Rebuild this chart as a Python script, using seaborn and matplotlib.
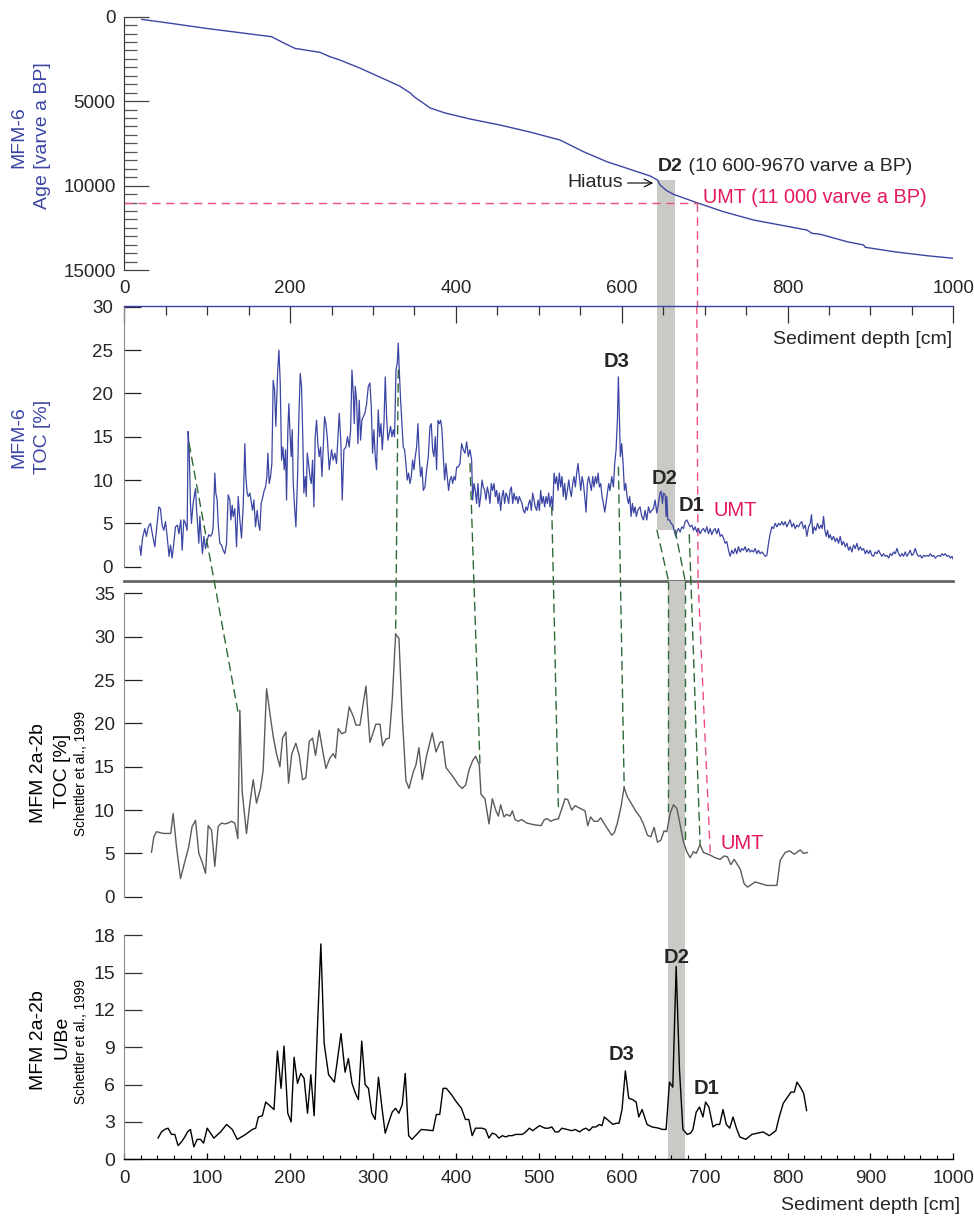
import numpy as np
import pandas as pd
import matplotlib
matplotlib.use("Agg")
import matplotlib.pyplot as plt
import seaborn as sns
from matplotlib.patches import ConnectionPatch
from matplotlib.ticker import MultipleLocator

# ---------------- DATA ----------------
# Panel 1: MFM-6 age-depth model
age_depth = [20.8, 60, 100, 140, 177.7, 191.7, 205.8, 236, 248, 260, 284, 308, 332, 345, 350, 357,
             369, 387, 417, 453, 489, 525.6, 553.8, 582, 610.1, 634.3, 643.1, 646.3, 654.4, 662.4,
             690.6, 722.8, 759, 795.2, 823.4, 829.4, 839.5, 871.7, 891.8, 893.8, 928, 968.3, 1000.4]
age_value = [155, 420, 700, 950, 1184, 1540, 1875, 2110, 2368, 2563, 3037, 3570, 4103, 4517, 4754, 4990,
             5405, 5701, 6056, 6411, 6825, 7300, 7990, 8584, 9036, 9430, 9667, 9963, 10300, 10516,
             11010, 11544, 12036, 12370, 12628, 12822, 12880, 13318, 13515, 13651, 13910, 14150, 14303]

# Panel 2: MFM-6 TOC [%]
toc6_depth = [
    18.7, 20.0, 22.0, 24.7, 26.7, 28.7, 31.6, 34.0, 36.8, 38.8, 41.6, 43.6, 45.6, 47.6, 49.7, 51.7,
    54.0, 55.7, 57.7, 59.7, 61.7, 64.2, 65.8, 68.2, 69.8, 71.8, 73.8, 75.8, 77.0, 78.2, 79.8, 81.0,
    83.0, 84.3, 85.9, 87.0, 88.3, 89.9, 91.1, 92.7, 94.3, 96.0, 98.0, 100.0, 102.0, 104.0, 106.0,
    107.2, 109.2, 110.4, 112.0, 113.2, 115.2, 117.2, 119.3, 121.3, 123.3, 125.3, 127.3, 128.5, 130.1,
    131.3, 133.3, 135.4, 137.4, 139.4, 141.4, 143.4, 145.4, 146.6, 148.2, 149.5, 151.5, 153.5, 154.7,
    156.3, 158.3, 160.3, 161.9, 163.5, 165.1, 166.7, 168.8, 170.4, 172.0, 173.2, 174.8, 176.4, 178.0,
    179.6, 181.2, 182.8, 184.9, 186.5, 188.1, 189.7, 191.3, 192.9, 194.5, 195.7, 197.3, 198.5, 199.7,
    201.3, 202.6, 203.8, 205.4, 207.0, 209.0, 210.6, 212.2, 213.8, 215.4, 216.6, 218.3, 219.5, 220.7,
    222.3, 223.9, 225.5, 227.1, 228.7, 230.3, 231.9, 233.5, 235.1, 236.8, 238.4, 240.0, 241.6, 243.2,
    244.8, 247.2,
    250.0, 252.0, 254.0, 256.0, 259.3, 261.3, 262.9, 264.9, 267.3, 269.3, 271.3, 273.0, 274.6, 276.2,
    277.4, 278.6, 280.2, 281.8, 283.4, 285.0, 286.6, 288.2, 290.2, 292.3, 294.3, 296.3, 297.9, 299.5,
    301.1, 302.7, 304.3, 306.3, 308.0, 309.6, 311.2, 313.2, 314.8, 316.4, 318.0, 319.6, 321.2, 322.8,
    324.4, 326.0, 327.7, 329.3, 330.5, 331.7, 333.3, 334.9, 336.5, 338.1, 339.7, 341.3, 342.9, 344.6,
    346.2, 347.8, 349.4, 351.0, 352.6, 354.2, 355.8, 357.4, 359.0, 360.7, 362.7, 364.7, 366.7, 368.7,
    370.3, 371.9, 373.5, 375.1, 376.7, 378.4, 380.0, 381.6, 383.2, 384.8, 386.4, 388.0, 389.6, 391.2,
    392.8, 394.5, 396.1, 397.7, 399.3, 400.9, 402.9, 404.9, 406.9, 408.9, 410.9, 413.0, 415.0, 417.0,
    419.0, 420.2, 421.8, 423.4, 425.0, 426.6, 428.2, 429.9, 431.5, 433.1, 434.7, 436.3, 437.9, 439.5,
    441.1, 442.7, 444.3, 446.0, 447.6, 449.2, 450.8, 452.4, 454.0, 455.6, 457.2, 458.8, 460.4, 462.0,
    463.6, 465.3, 466.9, 468.5, 470.1, 471.7, 473.3, 474.9, 476.5, 478.1, 479.7, 481.4, 483.0, 484.6,
    486.2, 487.8, 489.4, 491.0, 492.6, 494.2, 495.8, 497.4, 499.1, 500.7, 502.3, 503.9, 505.5, 507.1,
    508.7, 510.3, 511.9, 513.5, 515.2, 516.8, 518.4, 520.0, 521.6, 523.2, 524.8, 526.4, 528.0, 529.6,
    531.2, 532.8, 534.5, 536.1, 537.7, 539.3, 540.9, 542.5, 544.1, 545.7, 547.3, 548.9, 550.6, 552.2,
    553.8, 555.4, 557.0, 558.6, 560.2, 561.8, 563.4, 565.0, 566.6, 568.3, 569.9, 571.5, 573.1, 574.7,
    576.3, 577.9, 579.5, 581.1, 582.7, 584.3, 585.9, 588.0, 590.0, 591.6, 593.2, 594.8, 596.0, 597.2,
    598.4, 600.0, 601.7, 603.3, 604.9, 606.5, 608.1, 609.7, 611.3, 612.9, 614.5, 616.1, 617.7, 619.4,
    622.2, 624.2, 626.2, 628.2, 630.2, 632.3, 634.3, 636.3, 638.3, 640.3, 642.3, 644.3, 646.3, 647.5,
    649.2, 650.4, 652.4, 653.6, 654.4, 655.6, 657.6, 659.6, 661.6, 663.2, 665.2, 666.9, 668.5, 670.5,
    672.5, 674.5, 676.5, 678.5, 680.5, 682.5, 684.6, 686.6, 688.6, 690.6, 692.6, 694.6, 696.6, 698.6,
    700.7, 702.7, 704.7, 706.7, 708.7, 710.7, 712.7, 714.7, 716.7, 718.8, 720.8, 722.8, 724.8, 726.8,
    728.8, 730.8, 732.8, 734.8, 736.9, 738.9, 740.9, 742.9, 744.9, 746.9, 748.9, 750.9, 753.0, 755.0,
    757.0, 759.0, 761.0, 763.0, 765.0, 767.0, 769.0, 771.0, 773.1, 775.1, 777.1, 779.1, 781.1, 783.1,
    785.1, 787.2, 789.2, 791.2, 793.2, 795.2, 797.2, 799.2, 801.2, 803.2, 805.3, 807.3, 809.3, 811.3,
    813.3, 815.3, 817.3, 819.3, 821.4, 823.4, 825.4, 827.4, 829.0, 830.6, 832.2, 834.2, 836.2, 838.3,
    840.3, 841.9, 843.5, 845.1, 846.7, 848.3, 849.9, 851.5, 853.5, 855.6, 857.6, 859.6, 861.6, 863.6,
    865.6, 867.6, 869.6, 871.7, 873.7, 875.7, 877.7, 879.7, 881.7, 883.7, 885.7, 887.8, 889.8, 891.8,
    893.8, 895.8, 897.8, 899.8, 901.8, 903.8, 905.8, 907.9, 909.9, 911.9, 913.9, 915.9, 917.9, 920.0,
    922.0, 924.0, 926.0, 928.0, 930.0, 932.0, 934.0, 936.0, 938.0, 940.0, 942.0, 944.0, 946.0, 948.0,
    950.0, 952.0, 954.1, 956.0, 958.1, 960.2, 962.2, 964.2, 966.2, 968.2, 970.2, 972.2, 974.2, 976.3,
    978.3, 980.3, 982.3, 984.3, 986.3, 988.3, 990.3, 992.3, 994.4, 996.4, 998.4, 1001.0]
toc6_value = [
    2.4, 1.3, 3.3, 4.4, 3.5, 4.5, 5.0, 3.7, 2.3, 4.2, 6.9, 6.7, 4.8, 4.2, 5.2, 3.5,
    1.2, 2.5, 1.0, 2.7, 4.6, 4.8, 3.8, 5.4, 1.9, 5.4, 5.0, 4.2, 15.6, 13.8, 7.3, 5.0,
    7.3, 8.1, 9.0, 6.9, 5.0, 2.7, 5.8, 3.5, 1.5, 3.5, 2.1, 3.1, 3.7, 3.5, 3.8,
    4.6, 10.8, 8.5, 7.7, 5.0, 2.7, 2.5, 1.9, 1.5, 2.7, 8.3, 7.7, 5.4, 7.1,
    5.8, 6.7, 2.3, 8.1, 5.4, 3.3, 6.9, 14.2, 10.4, 8.5, 8.1, 8.5, 7.3, 6.5,
    7.7, 4.6, 6.5, 5.0, 4.2, 7.3, 7.9, 8.8, 9.2, 10.4, 13.1, 9.6, 10.4, 11.9,
    21.5, 20.4, 16.2, 22.3, 25.0, 21.2, 12.3, 13.8, 11.2, 13.5, 7.7, 15.8, 18.8, 15.8,
    12.7, 15.8, 9.6, 6.9, 4.6, 10.4, 17.3, 22.3, 20.8, 14.6, 8.5, 10.4, 8.1, 13.1,
    11.9, 10.4, 9.6, 12.3, 6.9, 15.0, 16.9, 14.2, 12.7, 13.8, 10.4, 13.8, 17.3, 16.5,
    15.0, 11.2,
    13.5, 12.3, 13.1, 11.9, 17.7, 14.2, 7.7, 13.5, 13.8, 15.0, 13.8, 15.8, 22.7, 20.0,
    16.5, 20.8, 19.2, 14.2, 19.2, 14.6, 16.9, 17.3, 17.7, 18.8, 20.8, 21.2, 18.5, 13.1,
    15.8, 12.7, 11.2, 18.1, 15.0, 16.5, 13.5, 16.5, 21.9, 17.3, 14.6, 15.4, 16.2, 15.0,
    15.8, 15.0, 22.7, 23.5, 25.8, 22.7, 19.2, 16.5, 13.8, 13.5, 11.9, 10.0, 10.8, 9.6,
    10.4, 12.3, 11.2, 12.7, 13.8, 16.5, 12.7, 10.4, 11.5, 8.8, 9.2, 11.2, 12.7, 16.2,
    16.5, 13.5, 12.7, 15.0, 11.2, 16.9, 16.5, 16.9, 15.8, 12.7, 10.0, 11.9, 10.4, 8.8,
    10.0, 10.4, 9.6, 10.4, 10.0, 11.5, 11.5, 11.9, 14.2, 13.5, 13.1, 14.4, 12.7, 13.5,
    12.3, 7.7, 9.6, 8.8, 7.3, 9.6, 6.9, 8.1, 10.0, 9.2, 8.8, 7.7, 9.2, 8.5,
    7.3, 9.6, 8.8, 9.6, 8.1, 8.8, 7.3, 8.5, 6.5, 8.1, 8.8, 7.3, 8.5, 8.1,
    7.3, 8.8, 9.2, 7.3, 8.5, 7.7, 8.1, 7.3, 8.1, 7.7, 7.3, 6.5, 6.2, 6.9,
    6.5, 7.3, 7.7, 6.5, 8.5, 7.7, 6.9, 6.5, 7.7, 6.5, 8.8, 7.3, 8.1, 6.9,
    8.1, 7.3, 8.5, 6.9, 8.1, 6.5, 10.8, 9.6, 10.4, 8.8, 10.8, 9.2, 10.4, 8.1,
    9.6, 7.7, 8.8, 10.0, 8.8, 8.1, 9.6, 10.4, 9.2, 10.8, 11.9, 10.4, 8.8, 10.4,
    9.6, 8.1, 6.3, 9.6, 10.4, 9.6, 8.8, 10.4, 9.2, 10.4, 9.6, 10.8, 9.2, 9.6,
    8.1, 7.3, 6.3, 7.3, 8.5, 9.6, 8.8, 10.4, 9.2, 11.9, 13.5, 16.9, 21.9, 17.3,
    12.7, 14.2, 11.9, 8.8, 9.6, 8.1, 7.3, 8.1, 5.8, 7.3, 6.2, 6.9, 5.8, 6.5,
    6.9, 5.8, 5.4, 6.5, 5.4, 6.9, 6.2, 6.5, 6.7, 7.7, 6.2, 7.3, 8.5, 8.7,
    7.3, 8.5, 8.3, 5.8, 8.1, 5.4, 5.4, 5.0, 4.8, 4.2, 3.5, 4.2, 4.4, 4.0,
    4.6, 4.4, 5.2, 5.4, 5.0, 4.6, 4.8, 4.2, 4.6, 4.0, 4.4, 3.8, 4.2, 4.4,
    4.0, 4.6, 3.8, 4.4, 3.7, 4.2, 4.4, 3.8, 4.4, 3.5, 3.7, 3.3, 2.7, 2.9,
    1.9, 1.2, 1.9, 1.5, 2.1, 1.5, 2.3, 1.7, 2.1, 1.9, 2.3, 1.7, 2.1, 1.7,
    1.9, 1.7, 2.1, 1.5, 1.9, 1.5, 1.7, 1.5, 1.2, 1.3, 2.7, 3.8, 4.6, 4.4,
    5.0, 4.6, 5.0, 4.8, 5.2, 4.8, 5.2, 4.6, 5.0, 5.4, 4.6, 5.0, 4.4, 4.8,
    4.6, 5.0, 5.2, 4.4, 4.8, 3.5, 4.6, 5.0, 6.0, 3.8, 4.6, 4.2, 5.0, 4.4,
    4.8, 4.4, 5.8, 4.2, 3.5, 4.2, 3.3, 3.7, 3.1, 3.5, 2.9, 3.3, 2.7, 3.5,
    2.5, 2.9, 2.3, 2.7, 1.9, 2.3, 1.7, 2.5, 2.1, 2.7, 1.9, 2.3, 1.9, 2.1,
    1.5, 1.9, 1.5, 1.9, 1.3, 1.2, 1.7, 1.5, 1.9, 1.5, 1.2, 1.5, 1.2, 1.3,
    1.0, 1.5, 1.3, 1.7, 1.5, 2.1, 1.5, 1.2, 1.5, 1.2, 1.7, 1.2, 1.5, 1.9,
    1.3, 1.5, 2.1, 1.5, 1.2, 1.3, 1.0, 1.3, 1.2, 1.3, 1.2, 1.5, 1.2, 1.3,
    1.0, 1.2, 1.3, 1.2, 1.5, 1.3, 1.5, 1.2, 1.3, 1.0, 1.2, 0.6]

# Panel 3: MFM 2a-2b TOC [%] (Schettler et al., 1999)
toc2_depth = [32.8, 35.6, 38.8, 42.8, 46.8, 52.9, 56.1, 58.9, 62.9, 67.8, 73.0, 77.8, 81.8, 85.9, 89.9,
              93.9, 98.0, 101.2, 105.2, 109.2, 113.2, 117.2, 121.3, 125.3, 129.3, 133.3, 137.0, 139.4,
              142.2, 147.4, 151.5, 155.5, 159.5, 164.3, 167.5, 171.6, 175.6, 179.6, 183.6, 187.7,
              190.9, 194.9, 198.1, 202.1, 206.9, 211.0, 215.0, 219.0, 223.1, 227.1, 230.7, 235.1,
              239.2, 243.2, 248.0, 252.0, 254.8, 258.1, 262.1, 266.9, 271.3, 276.2, 279.4, 284.2,
              291.5, 296.3, 303.5, 308.4, 311.6, 315.6, 319.6, 323.2, 327.3, 331.3, 335.3, 339.7,
              343.4, 348.6, 351.8, 355.4, 359.4, 364.7, 371.5, 376.0, 380.8, 384.0, 388.0, 396.9,
              402.9, 407.7, 411.8, 415.8, 420.2, 423.8, 428.2, 430.3, 435.1, 439.9, 443.9, 448.4,
              451.2, 454.0, 458.0, 461.2, 465.3, 468.1, 471.3, 475.3, 479.3, 485.4, 494.2, 502.7,
              506.7, 510.3, 514.3, 518.8, 523.6, 527.6, 531.6, 534.9, 539.7, 543.7, 549.8, 555.8,
              559.0, 562.6, 566.6, 571.1, 574.7, 581.1, 588.0, 591.2, 594.8, 599.2, 602.9, 606.9,
              611.3, 617.4, 622.2, 626.2, 631.1, 635.1, 639.1, 643.1, 647.1, 651.2, 654.4, 658.4,
              662.4, 666.5, 670.5, 674.5, 678.5, 682.5, 686.6, 689.8, 694.6, 698.6, 706.7, 712.7,
              718.8, 723.6, 727.6, 731.6, 735.7, 742.9, 747.7, 751.8, 761.0, 775.1, 787.2, 791.2,
              797.2, 802.4, 808.1, 815.3, 819.3, 824.2]
toc2_value = [5.1, 6.9, 7.5, 7.4, 7.3, 7.3, 7.3, 9.6, 5.8, 2.1, 4.0, 5.8, 8.1, 8.8, 5.0,
              4.0, 2.7, 8.2, 7.7, 3.5, 8.1, 8.5, 8.4, 8.5, 8.7, 8.5, 6.7, 21.5,
              12.1, 7.3, 10.8, 13.5, 10.8, 12.5, 14.6, 24.0, 21.2, 18.5, 16.5, 15.0,
              18.3, 19.0, 13.1, 16.5, 17.7, 16.3, 13.5, 13.7, 17.9, 18.3, 16.3, 19.2,
              16.9, 14.8, 16.0, 16.5, 16.0, 19.4, 18.8, 19.0, 21.9, 20.8, 19.8, 19.8,
              24.3, 17.8, 19.9, 19.9, 17.4, 18.2, 18.3, 22.7, 30.3, 29.8, 20.8, 13.4,
              12.5, 14.4, 15.2, 17.2, 13.5, 16.3, 18.9, 16.7, 17.8, 17.9, 14.9, 13.8,
              12.9, 12.5, 12.9, 14.6, 15.7, 16.2, 15.2, 11.8, 11.3, 8.4, 11.3, 9.9,
              9.3, 10.6, 9.2, 9.5, 9.3, 9.9, 8.9, 8.7, 8.9, 8.5, 8.3, 8.2,
              8.9, 9.0, 8.7, 8.9, 9.0, 10.1, 11.3, 11.2, 10.0, 10.5, 10.2, 9.9,
              8.2, 9.2, 8.7, 8.7, 9.1, 8.1, 7.1, 7.4, 8.5, 10.4, 12.6, 11.5,
              10.8, 9.8, 9.2, 8.4, 7.1, 6.9, 8.0, 6.3, 6.5, 7.6, 7.5, 9.6,
              10.6, 10.2, 8.3, 6.3, 5.2, 4.5, 5.2, 5.0, 6.0, 5.1, 4.8, 4.5,
              4.3, 4.7, 4.6, 3.7, 4.3, 3.2, 1.5, 1.1, 1.7, 1.3, 1.3, 4.2,
              5.1, 5.3, 4.9, 5.4, 5.0, 5.1]

# Panel 4: MFM 2a-2b U/Be (Schettler et al., 1999)
ube_depth = [40.7, 44.8, 48.8, 52.8, 56.9, 60.9, 64.9, 69.0, 73.0, 76.2, 79.8, 83.9, 87.9, 91.9, 95.6,
             100.0, 108.0, 116.1, 123.4, 130.2, 136.3, 146.4, 154.4, 158.5, 161.7, 166.5, 170.6,
             180.6, 184.7, 189.1, 192.7, 197.2, 201.2, 204.8, 208.9, 212.9, 216.9, 221.0, 225.0,
             229.0, 233.1, 237.1, 241.1, 246.4, 253.4, 261.4, 266.3, 270.3, 274.7, 278.8, 282.4,
             286.4, 290.5, 294.5, 298.6, 302.6, 306.6, 310.7, 314.7, 319.1, 323.2, 327.2, 331.2,
             335.3, 338.9, 343.0, 347.0, 358.3, 372.4, 376.4, 380.5, 384.5, 388.5, 394.6, 400.7,
             406.7, 411.5, 415.6, 419.6, 423.7, 431.7, 435.8, 439.8, 443.8, 447.9, 451.9, 456.0,
             460.0, 464.0, 468.0, 472.1, 480.1, 484.2, 488.6, 492.7, 496.7, 500.7, 507.6, 511.6,
             515.7, 519.7, 523.7, 527.8, 533.8, 539.9, 543.9, 549.2, 553.2, 556.8, 560.9, 564.9,
             568.9, 573.0, 576.2, 579.0, 584.3, 589.5, 593.5, 596.8, 600.4, 604.4, 608.5, 613.3,
             617.4, 620.6, 624.6, 630.6, 636.6, 644.7, 648.7, 653.6, 657.6, 661.6, 665.7, 669.7,
             673.8, 679.0, 683.0, 685.9, 689.9, 693.9, 698.0, 701.2, 705.2, 710.1, 714.1, 718.2,
             722.2, 726.2, 730.3, 734.3, 738.4, 742.4, 749.7, 757.0, 763.8, 770.6, 778.0, 786.0,
             790.0, 794.9, 800.1, 804.2, 808.2, 811.4, 815.5, 819.5, 823.1]
ube_value = [1.7, 2.2, 2.4, 2.5, 2.0, 2.0, 1.1, 1.4, 1.8, 2.2, 2.4, 1.0, 1.6, 1.6, 1.3,
             2.5, 1.7, 2.2, 2.8, 2.4, 1.6, 2.0, 2.4, 2.5, 3.4, 3.5, 4.6,
             4.0, 8.7, 5.7, 9.1, 3.7, 3.0, 8.2, 6.1, 6.9, 6.5, 3.7, 6.8,
             3.5, 10.8, 17.3, 9.3, 6.8, 6.2, 10.1, 7.0, 8.1, 6.1, 5.3, 4.8,
             9.5, 6.0, 5.7, 3.7, 3.2, 6.6, 4.2, 2.1, 3.0, 3.8, 4.1, 3.7,
             4.4, 6.9, 1.9, 1.6, 2.4, 2.3, 3.6, 3.6, 5.7, 5.7, 5.2, 4.6,
             4.1, 3.2, 3.2, 1.9, 2.5, 2.5, 2.4, 1.7, 2.1, 2.0, 1.7, 1.9,
             1.8, 1.9, 1.9, 2.0, 2.0, 2.2, 2.5, 2.3, 2.5, 2.7, 2.5, 2.5,
             2.6, 2.2, 2.2, 2.5, 2.4, 2.3, 2.4, 2.2, 2.4, 2.5, 2.3, 2.6,
             2.6, 2.8, 2.7, 3.4, 3.1, 2.8, 2.9, 2.9, 4.0, 7.1, 4.9, 4.8,
             4.6, 3.4, 4.0, 2.8, 2.6, 2.5, 2.4, 2.4, 6.2, 5.8, 15.5, 7.2,
             2.4, 2.0, 2.1, 2.4, 3.8, 4.2, 3.4, 4.6, 4.2, 2.6, 2.8, 2.8,
             4.0, 2.8, 2.5, 3.4, 2.5, 1.8, 1.6, 2.0, 2.1, 2.2, 1.9, 2.3,
             3.4, 4.5, 5.0, 5.4, 5.4, 6.2, 5.8, 5.3, 3.9]

# Annotations / correlation marks (depth, value)
d2_band_mfm6 = (643.0, 664.4)      # depth interval of D2 in MFM-6
d2_band_mfm2 = (656.4, 676.5)      # depth interval of D2 in MFM 2a-2b
d2_age_top = 9670
d2_toc6_bottom = 4.2
umt_age = 11000
umt_depth_mfm6 = 690.6
umt_mfm2 = (706.8, 5.0)
hiatus_point = (638.0, 9845)
# tie lines: (depth MFM-6, TOC MFM-6, depth MFM 2a-2b, TOC MFM 2a-2b)
ties = [(78.2, 14.2, 137.0, 21.4),
        (330.5, 22.7, 327.3, 30.3),
        (417.0, 11.9, 429.0, 15.4),
        (515.6, 6.9, 523.6, 10.4),
        (596.0, 11.5, 603.0, 12.6),
        (681.5, 3.7, 694.6, 6.0)]
d2_ties = [(642.5, 4.2, 656.4, 9.6), (664.4, 4.2, 676.5, 6.2)]

# ---------------- STYLE ----------------
sns.set_style("white")
plt.rcParams['font.family'] = ['Liberation Sans', 'DejaVu Sans']

BLUE = '#3b45a3'
GREEN = '#2f6a36'
RED_L = '#ec4f7c'
RED_T = '#e5195a'
BAND = '#c9c9c5'
TICK_FS = 13.5
LAB_FS = 14
ANN_FS = 14

W, H = 974.0, 1218.0
fig = plt.figure(figsize=(W / 100, H / 100), dpi=100)


def add_ax(top, bottom, left=124.3, right=953.3):
    return fig.add_axes([left / W, 1 - bottom / H, (right - left) / W, (bottom - top) / H])


ax1 = add_ax(16.7, 305.7)
ax2 = add_ax(305.7, 580.7)
ax3 = add_ax(580.7, 896.7)
ax4 = add_ax(896.7, 1159.3)
for ax in (ax1, ax2, ax3, ax4):
    ax.set_xlim(0, 1000)
    ax.patch.set_alpha(0)
    for s in ax.spines.values():
        s.set_visible(False)

# ---------- Panel 1 ----------
ax1.set_ylim(17109, 0)
ax1.fill_betweenx([d2_age_top, 17109], d2_band_mfm6[0], d2_band_mfm6[1], color=BAND, lw=0, zorder=0)
sns.lineplot(x=age_depth, y=age_value, ax=ax1, color=BLUE, lw=1.0, estimator=None, sort=False)
ax1.plot([0, umt_depth_mfm6], [umt_age, umt_age], color=RED_L, lw=1.0, ls=(0, (6, 4)))
ax1.plot([umt_depth_mfm6, umt_depth_mfm6], [umt_age, 17109], color=RED_L, lw=1.0, ls=(0, (6, 4)))
ax1.spines['left'].set_visible(True)
ax1.spines['left'].set_bounds(0, 15000)
ax1.spines['left'].set_color('#333333')
ax1.set_yticks([0, 5000, 10000, 15000])
ax1.set_yticks([v for v in range(500, 15000, 500) if v % 5000], minor=True)
ax1.tick_params(axis='y', which='major', direction='in', length=18, width=0.9, color='#444444',
                labelsize=TICK_FS, pad=6.3, left=True)
ax1.tick_params(axis='y', which='minor', direction='in', length=9, width=0.9, color='#555555', left=True)
ax1.tick_params(axis='x', which='both', bottom=False, labelbottom=False)
ax1.set_xlabel('')
ax1.set_ylabel('')

t1 = ax1.text(644, 8839, 'D2', fontsize=ANN_FS, fontweight='bold', ha='left', va='center')
ax1.annotate(' (10 600-9670 varve a BP)', xy=(1, 0.5), xycoords=t1, fontsize=ANN_FS, ha='left', va='center')
ax1.annotate('Hiatus', xy=hiatus_point, xytext=(601.5, hiatus_point[1]), fontsize=ANN_FS, ha='right',
             va='center', arrowprops=dict(arrowstyle='->', color='black', lw=0.8, shrinkA=1, shrinkB=0))
ax1.text(698, 10680, 'UMT (11 000 varve a BP)', color=RED_T, fontsize=14.3, ha='left', va='center')

# ---------- Panel 2 ----------
ax2.set_ylim(-1.615, 30.115)
ax2.fill_betweenx([d2_toc6_bottom, 30.115], d2_band_mfm6[0], d2_band_mfm6[1], color=BAND, lw=0, zorder=0)
ax2.plot([umt_depth_mfm6, umt_depth_mfm6 + 1.5], [30.115, -1.615], color=RED_L, lw=1.0, ls=(0, (6, 4)))
sns.lineplot(x=toc6_depth, y=toc6_value, ax=ax2, color=BLUE, lw=0.9, estimator=None, sort=False)
ax2.spines['top'].set_visible(True)
ax2.spines['top'].set_color(BLUE)
ax2.spines['top'].set_linewidth(1.0)
ax2.spines['left'].set_visible(True)
ax2.spines['left'].set_color('#8a8a8a')
ax2.spines['left'].set_bounds(0, 30.115)
ax2.spines['bottom'].set_visible(True)
ax2.spines['bottom'].set_color('#666666')
ax2.spines['bottom'].set_linewidth(2.0)
ax2.xaxis.tick_top()
ax2.set_xticks(range(0, 1001, 200))
ax2.set_xticks([v for v in range(50, 1000, 50) if v % 200], minor=True)
ax2.tick_params(axis='x', which='major', direction='in', length=12.5, width=0.9, color='#333333',
                top=True, bottom=False, labeltop=True, labelbottom=False, labelsize=TICK_FS, pad=6)
ax2.tick_params(axis='x', which='minor', direction='in', length=6.5, width=0.9, color='#333333',
                top=True, bottom=False)
ax2.set_yticks(range(0, 31, 5))
ax2.tick_params(axis='y', which='major', direction='in', length=12.5, width=0.9, color='#222222',
                labelsize=TICK_FS, pad=8, left=True)
ax2.set_xlabel('')
ax2.set_ylabel('')
ax2.text(998.8, 26.2, 'Sediment depth [cm]', fontsize=LAB_FS, ha='right', va='center')
ax2.text(594.4, 23.7, 'D3', fontsize=14.5, fontweight='bold', ha='center', va='center')
ax2.text(651.2, 10.2, 'D2', fontsize=14.5, fontweight='bold', ha='center', va='center')
ax2.text(683.7, 7.1, 'D1', fontsize=14.5, fontweight='bold', ha='center', va='center')
ax2.text(710.2, 6.5, 'UMT', fontsize=14.5, color=RED_T, ha='left', va='center')

# ---------- Panel 3 ----------
ax3.set_ylim(0, 36.46)
ax3.axvspan(d2_band_mfm2[0], d2_band_mfm2[1], color=BAND, lw=0, zorder=0)
sns.lineplot(x=toc2_depth, y=toc2_value, ax=ax3, color='#5a5a5a', lw=1.0, estimator=None, sort=False)
ax3.plot([umt_depth_mfm6 + 1.5, umt_mfm2[0]], [36.46, umt_mfm2[1]], color=RED_L, lw=1.0, ls=(0, (6, 4)))
ax3.spines['left'].set_visible(True)
ax3.spines['left'].set_color('#8a8a8a')
ax3.spines['left'].set_bounds(0, 35)
ax3.set_yticks(range(0, 36, 5))
ax3.tick_params(axis='y', which='major', direction='in', length=13, width=0.9, color='#222222',
                labelsize=TICK_FS, pad=6.7, left=True)
ax3.tick_params(axis='x', which='both', bottom=False, labelbottom=False)
ax3.set_xlabel('')
ax3.set_ylabel('')
ax3.text(718.9, 6.1, 'UMT', fontsize=14.5, color=RED_T, ha='left', va='center')

# ---------- Panel 4 ----------
ax4.set_ylim(0, 21.1)
ax4.axvspan(d2_band_mfm2[0], d2_band_mfm2[1], color=BAND, lw=0, zorder=0)
sns.lineplot(x=ube_depth, y=ube_value, ax=ax4, color='black', lw=1.0, estimator=None, sort=False)
ax4.spines['left'].set_visible(True)
ax4.spines['left'].set_color('#8a8a8a')
ax4.spines['left'].set_bounds(0, 18)
ax4.spines['bottom'].set_visible(True)
ax4.spines['bottom'].set_color('black')
ax4.spines['bottom'].set_linewidth(1.0)
ax4.set_yticks(range(0, 19, 3))
ax4.tick_params(axis='y', which='major', direction='in', length=13, width=0.9, color='#333333',
                labelsize=14, pad=6.5, left=True)
ax4.set_xticks(range(0, 1001, 100))
ax4.set_xticks([v for v in range(20, 1000, 20) if v % 100], minor=True)
ax4.tick_params(axis='x', which='major', direction='in', length=4.5, width=0.9, color='black',
                labelsize=TICK_FS, pad=7.5, bottom=True)
ax4.tick_params(axis='x', which='minor', direction='in', length=3, width=0.8, color='black', bottom=True)
ax4.set_xlabel('')
ax4.set_ylabel('')
ax4.text(1008.8, -3.75, 'Sediment depth [cm]', fontsize=LAB_FS, ha='right', va='center', clip_on=False)
ax4.text(599.6, 8.4, 'D3', fontsize=14.5, fontweight='bold', ha='center', va='center')
ax4.text(666.2, 16.2, 'D2', fontsize=14.5, fontweight='bold', ha='center', va='center')
ax4.text(702.5, 5.65, 'D1', fontsize=14.5, fontweight='bold', ha='center', va='center')

# ---------- Tie lines between MFM-6 and MFM 2a-2b ----------
def connect(pA, axA, pB, axB, color):
    con = ConnectionPatch(xyA=pA, coordsA='data', axesA=axA, xyB=pB, coordsB='data', axesB=axB,
                          color=color, lw=1.0, ls=(0, (6, 4)), zorder=5)
    fig.add_artist(con)


for (xa, ya, xb, yb) in ties:
    connect((xa, ya), ax2, (xb, yb), ax3, GREEN)
for (xa, ya, xb, yb) in d2_ties:
    connect((xa, ya), ax2, (xb, 36.46), ax3, GREEN)
    ax3.plot([xb, xb], [36.46, yb], color=GREEN, lw=1.0, ls=(0, (6, 4)), zorder=5)

# ---------- Y labels ----------
def ylab(x, y, s, color='black', size=LAB_FS):
    fig.text(x / W, 1 - y / H, s, rotation=90, ha='center', va='center', color=color, fontsize=size)


ylab(19, 137, 'MFM-6', BLUE)
ylab(42.5, 136, 'Age [varve a BP]', BLUE)
ylab(19, 437, 'MFM-6', BLUE)
ylab(42.5, 437, 'TOC [%]', BLUE)
ylab(38.5, 773, 'MFM 2a-2b')
ylab(62.5, 771, 'TOC [%]')
ylab(81, 774, 'Schettler et al., 1999', size=9.8)
ylab(38.5, 1040, 'MFM 2a-2b')
ylab(62.5, 1037, 'U/Be')
ylab(81, 1041, 'Schettler et al., 1999', size=9.8)

fig.savefig('out.png', dpi=100)
